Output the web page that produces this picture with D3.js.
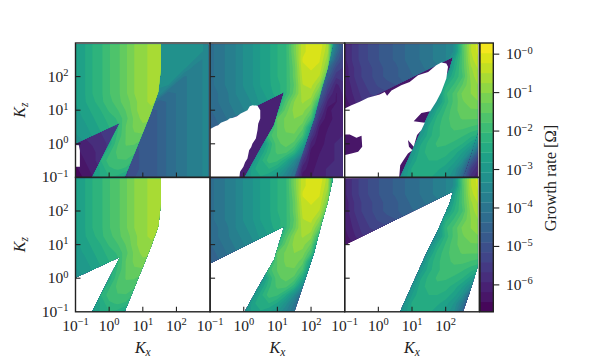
<!DOCTYPE html>
<html><head><meta charset="utf-8">
<script src="https://cdnjs.cloudflare.com/ajax/libs/d3/7.8.5/d3.min.js"></script>
<style>html,body{margin:0;padding:0;background:#fff}svg{display:block}text{font-family:"Liberation Serif",serif;fill:#222}</style>
</head><body><svg id="c" width="598" height="357"></svg>
<script>
// log10(growth rate) x 10, rows from log Kz = 3 down to -1, columns log Kx = -1 to 3 (step .25)
const ridgeA=[
[-28,-26,-23,-21,-18,-16,-13,-10,-8,-7,-7,-8,-9,-10,-11,-12,-13],
[-28,-26,-23,-21,-18,-16,-13,-10,-8,-7,-7,-8,-9,-10,-11,-12,-13],
[-28,-26,-23,-21,-18,-16,-13,-10,-8,-7,-7,-8,-9,-10,-11,-12,-13],
[-28,-26,-23,-21,-18,-16,-13,-10,-8,-7,-7,-8,-9,-10,-11,-12,-13],
[-28,-26,-23,-21,-18,-16,-13,-10,-8,-7,-7,-8,-9,-10,-11,-12,-13],
[-28,-26,-23,-21,-18,-16,-13,-10,-8,-7,-7,-8,-9,-10,-11,-12,-13],
[-28,-26,-23,-21,-18,-16,-13,-10,-8,-7,-7,-8,-9,-10,-11,-12,-13],
[-28,-26,-24,-21,-19,-16,-14,-11,-8,-7,-8,-9,-10,-11,-12,-13,-14],
[-29,-27,-25,-23,-20,-18,-15,-11,-8,-8,-9,-11,-12,-13,-14,-15,-16],
[-29,-28,-26,-24,-22,-20,-16,-12,-9,-9,-11,-13,-15,-16,-17,-18,-19],
[-30,-29,-27,-25,-23,-21,-15,-12,-11,-12,-14,-17,-18,-19,-20,-21,-22],
[-31,-30,-28,-26,-24,-20,-15,-13,-13,-15,-18,-21,-22,-23,-24,-25,-26],
[-33,-31,-29,-27,-25,-18,-15,-15,-17,-20,-24,-26,-27,-28,-29,-30,-31],
[-35,-33,-31,-27,-21,-17,-16,-17,-20,-24,-27,-29,-30,-31,-32,-33,-34],
[-37,-35,-30,-23,-19,-18,-18,-21,-25,-28,-30,-32,-33,-34,-35,-36,-37],
[-39,-36,-30,-25,-21,-20,-21,-25,-28,-30,-32,-34,-35,-36,-37,-38,-39],
[-40,-38,-29,-25,-23,-24,-28,-30,-32,-33,-35,-36,-37,-38,-39,-40,-41]];
const underA=[
[-33,-33,-33,-33,-33,-33,-33,-33,-33,-33,-33,-33,-33,-33,-33,-33,-35],
[-33,-33,-33,-33,-33,-33,-33,-33,-33,-33,-33,-33,-33,-33,-33,-33,-35],
[-33,-33,-33,-33,-33,-33,-33,-33,-33,-33,-33,-33,-33,-33,-33,-36,-35],
[-33,-33,-33,-33,-33,-33,-33,-33,-33,-33,-33,-33,-33,-33,-37,-36,-35],
[-33,-33,-33,-33,-33,-33,-33,-33,-33,-33,-33,-33,-33,-39,-37,-36,-35],
[-33,-33,-33,-33,-33,-33,-33,-33,-33,-33,-33,-33,-41,-39,-37,-36,-35],
[-34,-34,-34,-34,-34,-34,-34,-34,-34,-34,-34,-43,-41,-39,-37,-36,-35],
[-46,-46,-46,-46,-46,-46,-46,-46,-46,-38,-46,-43,-41,-39,-37,-36,-35],
[-50,-50,-50,-50,-50,-50,-50,-49,-47,-47,-46,-43,-41,-39,-37,-36,-35],
[-50,-50,-50,-50,-50,-50,-50,-49,-47,-47,-46,-43,-41,-39,-37,-36,-35],
[-58,-58,-57,-56,-55,-54,-52,-50,-47,-47,-46,-43,-41,-39,-37,-36,-35],
[-60,-59,-58,-57,-55,-54,-52,-50,-47,-47,-46,-43,-41,-39,-37,-36,-35],
[-62,-60,-59,-58,-56,-54,-52,-50,-47,-47,-46,-43,-41,-39,-37,-36,-35],
[-63,-61,-60,-58,-56,-54,-52,-50,-48,-47,-46,-43,-41,-39,-37,-36,-35],
[-64,-62,-60,-58,-56,-54,-52,-50,-48,-47,-46,-43,-41,-39,-37,-36,-35],
[-65,-63,-61,-59,-57,-54,-52,-50,-48,-47,-46,-43,-41,-39,-37,-36,-35],
[-67,-64,-62,-59,-57,-54,-52,-49,-47,-47,-46,-43,-41,-39,-37,-36,-35]];
const ridgeB=[
[-42,-40,-38,-36,-33,-31,-28,-26,-23,-21,-12,-3,-1,0,-6,-35,-50],
[-42,-40,-38,-36,-33,-31,-28,-26,-23,-21,-12,-3,-1,-1,-7,-38,-52],
[-42,-40,-38,-36,-33,-31,-28,-26,-23,-21,-13,-2,-1,-2,-9,-42,-54],
[-42,-40,-38,-36,-33,-31,-28,-26,-23,-21,-14,-3,-2,-3,-12,-46,-56],
[-42,-40,-38,-36,-33,-31,-28,-26,-23,-21,-14,-4,-3,-5,-17,-50,-56],
[-42,-40,-38,-36,-33,-31,-28,-26,-24,-21,-15,-5,-4,-9,-30,-54,-57],
[-43,-41,-39,-36,-34,-32,-29,-27,-24,-21,-14,-6,-6,-14,-38,-56,-58],
[-43,-41,-39,-37,-35,-33,-30,-28,-26,-17,-10,-7,-9,-22,-45,-58,-59],
[-44,-42,-40,-38,-36,-34,-32,-30,-22,-14,-9,-9,-13,-32,-50,-60,-59],
[-45,-43,-41,-39,-37,-36,-34,-30,-15,-12,-10,-11,-18,-38,-55,-60,-59],
[-46,-44,-42,-40,-39,-38,-36,-24,-15,-12,-11,-14,-28,-44,-60,-60,-59],
[-47,-45,-44,-43,-42,-41,-30,-19,-15,-13,-13,-18,-33,-50,-61,-60,-59],
[-48,-47,-46,-45,-44,-42,-34,-23,-16,-14,-16,-25,-40,-55,-60,-59,-58],
[-50,-49,-48,-47,-45,-37,-28,-21,-17,-17,-22,-34,-45,-60,-60,-59,-58],
[-52,-51,-50,-48,-45,-32,-24,-19,-20,-25,-33,-45,-50,-60,-60,-59,-58],
[-54,-53,-52,-50,-38,-27,-23,-23,-26,-32,-39,-50,-55,-60,-59,-58,-57],
[-55,-54,-53,-45,-33,-27,-26,-28,-31,-36,-41,-53,-58,-60,-59,-58,-57]];
const underB=[
[-60,-60,-60,-60,-60,-60,-60,-60,-60,-60,-60,-60,-60,-60,-20,-38,-52],
[-60,-60,-60,-60,-60,-60,-60,-60,-60,-60,-60,-60,-60,-60,-25,-42,-53],
[-60,-60,-60,-60,-60,-60,-60,-60,-60,-60,-60,-60,-60,-60,-30,-47,-54],
[-60,-60,-60,-60,-60,-60,-60,-60,-60,-60,-60,-60,-60,-60,-42,-52,-55],
[-60,-60,-60,-60,-60,-60,-60,-60,-60,-60,-60,-60,-60,-28,-47,-56,-56],
[-60,-60,-60,-60,-60,-60,-60,-60,-60,-60,-60,-60,-60,-38,-52,-60,-57],
[-60,-60,-60,-60,-60,-60,-60,-60,-60,-60,-60,-60,-60,-44,-56,-62,-58],
[-60,-60,-60,-60,-60,-60,-60,-60,-60,-60,-60,-60,-34,-49,-60,-62,-59],
[-60,-60,-60,-60,-60,-60,-60,-60,-60,-60,-60,-60,-40,-54,-63,-60,-59],
[-60,-60,-60,-60,-60,-60,-60,-60,-60,-60,-60,-60,-44,-58,-64,-60,-59],
[-60,-60,-60,-60,-60,-60,-60,-60,-60,-60,-60,-34,-50,-62,-62,-60,-59],
[-60,-60,-60,-60,-60,-60,-60,-60,-60,-60,-60,-40,-55,-64,-61,-60,-59],
[-60,-60,-60,-60,-60,-60,-60,-60,-60,-60,-60,-45,-60,-64,-60,-59,-58],
[-60,-60,-60,-60,-60,-60,-60,-60,-60,-60,-34,-50,-63,-62,-60,-59,-58],
[-60,-60,-60,-60,-60,-60,-60,-60,-60,-60,-40,-56,-64,-61,-60,-59,-58],
[-60,-60,-60,-60,-60,-60,-60,-60,-60,-35,-45,-61,-63,-60,-59,-58,-57],
[-60,-60,-60,-60,-60,-60,-60,-60,-60,-38,-50,-63,-62,-60,-59,-58,-57]];
const ridgeC=[
[-60,-56,-53,-51,-49,-47,-46,-44,-42,-41,-39,-38,-36,-33,-16,-5,0],
[-60,-56,-53,-51,-49,-47,-46,-44,-42,-41,-39,-38,-36,-33,-17,-5,-1],
[-60,-56,-53,-51,-49,-47,-46,-44,-42,-41,-39,-38,-36,-27,-17,-6,-2],
[-61,-57,-54,-52,-50,-48,-47,-45,-43,-42,-40,-39,-37,-25,-17,-8,-4],
[-61,-57,-54,-52,-50,-48,-47,-45,-44,-43,-42,-41,-30,-23,-18,-9,-5],
[-62,-58,-55,-53,-51,-50,-49,-47,-46,-45,-44,-36,-24,-20,-15,-10,-7],
[-62,-59,-56,-54,-53,-52,-51,-49,-48,-47,-46,-33,-21,-17,-12,-10,-8],
[-63,-60,-57,-56,-55,-54,-53,-51,-50,-48,-45,-31,-22,-17,-13,-11,-10],
[-64,-62,-60,-58,-57,-56,-55,-53,-52,-50,-35,-25,-20,-16,-14,-13,-13],
[-64,-63,-62,-60,-59,-58,-57,-55,-54,-44,-29,-22,-19,-16,-15,-15,-15],
[-64,-63,-62,-61,-60,-59,-58,-57,-55,-36,-25,-21,-19,-17,-17,-18,-19],
[-64,-63,-62,-61,-60,-59,-58,-57,-45,-30,-24,-21,-19,-19,-20,-22,-24],
[-64,-63,-62,-61,-60,-59,-58,-57,-37,-26,-22,-20,-20,-21,-23,-27,-36],
[-64,-63,-62,-61,-60,-59,-58,-45,-31,-24,-22,-21,-22,-24,-28,-34,-48],
[-64,-63,-62,-61,-60,-59,-58,-37,-28,-23,-23,-23,-24,-27,-32,-46,-56],
[-64,-63,-62,-61,-60,-59,-45,-32,-25,-24,-24,-25,-27,-31,-39,-54,-60],
[-64,-63,-62,-61,-60,-59,-40,-30,-25,-25,-25,-27,-29,-33,-44,-58,-62]];
const underC=[
[-63,-63,-63,-63,-63,-63,-63,-63,-63,-63,-63,-63,-63,-63,-63,-63,-63],
[-63,-63,-63,-63,-63,-63,-63,-63,-63,-63,-63,-63,-63,-63,-63,-63,-63],
[-63,-63,-63,-63,-63,-63,-63,-63,-63,-63,-63,-63,-63,-63,-63,-63,-63],
[-63,-63,-63,-63,-63,-63,-63,-63,-63,-63,-63,-63,-63,-63,-63,-63,-63],
[-63,-63,-63,-63,-63,-63,-63,-63,-63,-63,-63,-63,-63,-63,-63,-63,-63],
[-63,-63,-63,-63,-63,-63,-63,-63,-63,-63,-63,-63,-63,-63,-63,-63,-63],
[-63,-63,-63,-63,-63,-63,-63,-63,-63,-63,-63,-63,-63,-63,-63,-63,-63],
[-63,-63,-63,-63,-63,-63,-63,-63,-63,-63,-63,-63,-63,-63,-63,-63,-63],
[-63,-63,-63,-63,-63,-63,-63,-63,-63,-63,-63,-63,-63,-63,-63,-63,-63],
[-63,-63,-63,-63,-63,-63,-63,-63,-63,-63,-63,-63,-63,-63,-63,-63,-63],
[-63,-63,-63,-63,-63,-63,-63,-63,-63,-63,-63,-63,-63,-63,-18,-18,-19],
[-63,-63,-63,-63,-63,-63,-63,-63,-63,-63,-63,-63,-63,-63,-20,-22,-24],
[-63,-63,-63,-63,-63,-63,-63,-63,-63,-63,-63,-63,-63,-63,-23,-27,-36],
[-63,-63,-63,-63,-63,-63,-63,-63,-63,-63,-63,-63,-63,-63,-28,-34,-48],
[-63,-63,-63,-63,-63,-63,-63,-63,-63,-63,-63,-63,-63,-63,-32,-46,-56],
[-63,-63,-63,-63,-63,-63,-63,-63,-63,-63,-63,-63,-63,-63,-39,-54,-60],
[-63,-63,-63,-63,-63,-63,-63,-63,-63,-63,-63,-63,-63,-63,-44,-58,-62]];
// Boundaries of the unstable region, [log Kx, log Kz]
const outlineA=[[-1.1,3.1],[1.54,3.1],[1.54,2.24],[1.46,1.54],[1.21,.85],[.42,-1.1],[-.56,-1.1],[.32,.63],[-1,.01],[-1.1,-.03]];
const outlineB=[[-1.1,3.1],[2.68,3.1],[2.66,3],[2.49,2.24],[2.29,1.54],[2.09,.75],[1.79,-.14],[1.47,-1.1],[-.03,-1.1],[.5,-.14],[.9,.55],[1.2,1.54],[-1,.44],[-1.1,.39]];
const outlineC=[[-1.1,3.1],[3.1,3.1],[3.1,.5],[2.96,.36],[2.71,-.44],[2.48,-1.1],[.6,-1.1],[1.03,-.14],[1.43,.75],[1.82,1.54],[2.12,2.24],[2.22,2.58],[-1,.99],[-1.1,.94]];
const holeA=[[-1.1,-.03],[-.9,-.04],[-.87,-.2],[-.87,-.68],[-1.1,-.68]];
const holeB=[[-1.1,.39],[-1,.44],[-.83,.53],[-.76,.55],[-.68,.63],[-.49,.70],[-.41,.76],[-.34,.77],[-.2,.82],[-.09,.90],[.11,1.0],[.18,1.12],[.26,1.15],[.41,1.13],[.49,1.0],[.49,.75],[.43,.6],[.41,.41],[.36,.16],[.26,.01],[.22,-.1],[.16,-.19],[.11,-.44],[.04,-.55],[-.01,-.68],[-.11,-.83],[-.14,-1.1],[-1.1,-1.1]];
const holeC=[[-1.1,1.0],[-1,1.05],[-.80,1.15],[-.55,1.25],[-.31,1.37],[.04,1.47],[.19,1.54],[.26,1.43],[.39,1.59],[.68,1.74],[.93,1.84],[1.18,2.04],[1.48,2.14],[1.72,2.34],[1.87,2.42],[2.02,2.39],[2.07,2.29],[2.02,1.94],[1.87,1.54],[1.72,1.25],[1.54,.97],[1.28,.92],[1.05,.67],[1.38,.63],[1.28,.41],[1.15,.26],[1.05,-.09],[.88,.11],[.91,-.09],[1.01,-.19],[.88,-.29],[.78,-.44],[.65,-.64],[.61,-1.1],[-1.1,-1.1],[-1.1,-.36],[-.80,-.29],[-.60,-.24],[-.48,-.09],[-.50,.24],[-.65,.18],[-.85,.28],[-1.1,.28]];
const kTicks=[-1,0,1,2];
const zTicks=[-1,0,1,2];
const cbarTicks=[0,-1,-2,-3,-4,-5,-6];
const cbarLabel="Growth rate [Ω]";
const panels=[
 {col:0,row:0,grid:ridgeA,under:underA,clip:outlineA,hole:holeA},
 {col:1,row:0,grid:ridgeB,under:underB,clip:outlineB,hole:holeB},
 {col:2,row:0,grid:ridgeC,under:underC,clip:outlineC,hole:holeC},
 {col:0,row:1,grid:ridgeA,clip:outlineA},
 {col:1,row:1,grid:ridgeB,clip:outlineB},
 {col:2,row:1,grid:ridgeC,clip:outlineC}];

const L=75.5,T=43,PW=134.6,PH=134.4,INK="#222";
const bandCount=27,vMin=-6.7,vMax=.29;
const bandEdges=d3.range(bandCount).map(i=>vMin+i*(vMax-vMin)/bandCount);
const color=i=>d3.interpolateViridis((i+.5)/bandCount);
const svg=d3.select("#c");
const defs=svg.append("defs");

function pow(l){return Math.pow(10,l)}
function sup(sel,base,exp){
  sel.text(base);
  sel.append("tspan").attr("dy",-5.5).attr("font-size",10.5).text(exp);
}
function drawContours(g,grid,sx,sy){
  const ny=grid.length,nx=grid[0].length,step=4/(nx-1);
  const vals=grid.flat().map(v=>v/10);
  const proj=d3.geoTransform({point(x,y){
    this.stream.point(sx(pow(-1+(x-.5)*step)),sy(pow(3-(y-.5)*step)));
  }});
  const path=d3.geoPath(proj);
  const cs=d3.contours().size([nx,ny]).thresholds(bandEdges).smooth(true)(vals);
  g.append("rect").attr("x",sx(.05)).attr("y",sy(2000)).attr("width",sx(2000)-sx(.05)).attr("height",sy(.05)-sy(2000)).attr("fill",color(0));
  g.selectAll("path").data(cs).join("path").attr("d",path).attr("fill",(d,i)=>color(i));
}
panels.forEach((p,k)=>{
  const x0=L+p.col*PW,y0=T+p.row*PH;
  const sx=d3.scaleLog().domain([.1,1000]).range([x0,x0+PW]);
  const sy=d3.scaleLog().domain([.1,1000]).range([y0+PH,y0]);
  const line=d3.line().x(d=>sx(pow(d[0]))).y(d=>sy(pow(d[1])));
  defs.append("clipPath").attr("id","r"+k).append("rect")
    .attr("x",x0).attr("y",y0+1.4).attr("width",PW-1.8).attr("height",PH-1.4);
  defs.append("clipPath").attr("id","o"+k).append("path").attr("d",line(p.clip)+"Z");
  const g=svg.append("g").attr("clip-path",`url(#r${k})`);
  if(p.under) drawContours(g.append("g"),p.under,sx,sy);
  drawContours(g.append("g").attr("clip-path",`url(#o${k})`),p.grid,sx,sy);
  if(p.hole) g.append("path").attr("d",line(p.hole)+"Z").attr("fill","#fff");
  svg.append("rect").attr("x",x0).attr("y",y0).attr("width",PW).attr("height",PH).attr("fill","none").attr("stroke",INK).attr("stroke-width",1.4);
  kTicks.forEach(t=>{
    if(t>-1){
      svg.append("line").attr("x1",sx(pow(t))).attr("x2",sx(pow(t))).attr("y1",y0+PH).attr("y2",y0+PH-5).attr("stroke",INK).attr("stroke-width",1.1);
    }
    if(p.row===1){
      svg.append("text").attr("x",sx(pow(t))).attr("y",y0+PH+19).attr("text-anchor","middle").attr("font-size",15.5)
        .call(sup,"10",(t<0?"−":"")+Math.abs(t));
    }
  });
  zTicks.forEach(t=>{
    if(t>-1) svg.append("line").attr("x1",x0).attr("x2",x0+5).attr("y1",sy(pow(t))).attr("y2",sy(pow(t))).attr("stroke",INK).attr("stroke-width",1.1);
    if(p.col===0){
      svg.append("text").attr("x",x0-7).attr("y",sy(pow(t))+5).attr("text-anchor","end").attr("font-size",15.5)
        .call(sup,"10",(t<0?"−":"")+Math.abs(t));
    }
  });
  if(p.row===1){
    const lab=svg.append("text").attr("x",x0+PW/2).attr("y",353).attr("text-anchor","middle").attr("font-size",16).attr("font-style","italic").text("K");
    lab.append("tspan").attr("dy",3).attr("font-size",11.5).text("x");
  }
  if(p.col===0){
    const lab=svg.append("text").attr("transform",`translate(25,${y0+PH/2}) rotate(-90)`).attr("text-anchor","middle").attr("font-size",16).attr("font-style","italic").text("K");
    lab.append("tspan").attr("dy",3).attr("font-size",11.5).text("z");
  }
});
const cb=d3.scaleLinear().domain([vMin,vMax]).range([T+PH*2,T]);
const CX=480,CW=13.3;
svg.append("g").selectAll("rect").data(bandEdges).join("rect")
  .attr("x",CX).attr("width",CW)
  .attr("y",(d,i)=>cb(i===bandCount-1?vMax:bandEdges[i+1]))
  .attr("height",(d,i)=>cb(d)-cb(i===bandCount-1?vMax:bandEdges[i+1])+.3)
  .attr("fill",(d,i)=>color(i));
svg.append("rect").attr("x",CX).attr("y",T).attr("width",CW).attr("height",PH*2).attr("fill","none").attr("stroke",INK).attr("stroke-width",1.4);
cbarTicks.forEach(t=>{
  svg.append("line").attr("x1",CX+CW).attr("x2",CX+CW+6).attr("y1",cb(t)).attr("y2",cb(t)).attr("stroke",INK).attr("stroke-width",1.1);
  svg.append("text").attr("x",506).attr("y",cb(t)+5).attr("font-size",15.5).call(sup,"10","−"+Math.abs(t));
});
svg.append("text").attr("transform",`translate(556,178) rotate(-90)`).attr("text-anchor","middle").attr("font-size",16.5).text(cbarLabel);
</script></body></html>
